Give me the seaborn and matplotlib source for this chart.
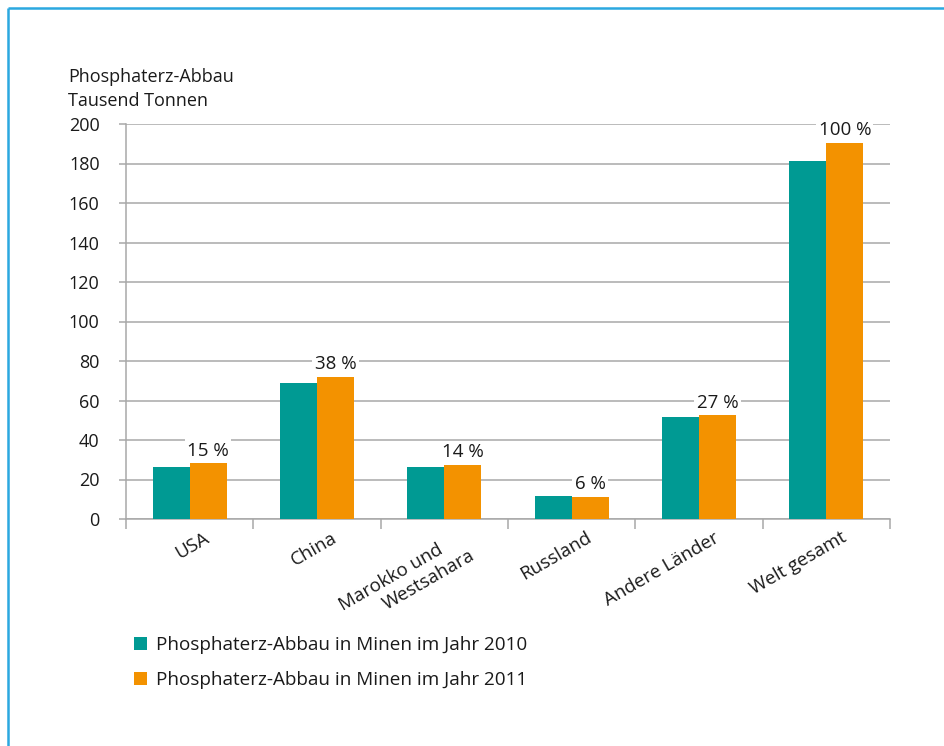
import matplotlib
matplotlib.use("Agg")
import matplotlib.pyplot as plt
import matplotlib.transforms as mtransforms
from matplotlib.lines import Line2D
from matplotlib.patches import Patch
import numpy as np
import pandas as pd
import seaborn as sns

# Phosphate rock mining, thousand tonnes
categories = ["USA", "China", "Marokko und Westsahara", "Russland",
              "Andere Länder", "Welt gesamt"]
tick_labels = ["USA", "China", "Marokko und     \nWestsahara", "Russland",
               "Andere Länder", "Welt gesamt"]
mining_2010 = [26.4, 68.7, 26.4, 11.5, 51.4, 181.5]
mining_2011 = [28.3, 72.0, 27.4, 11.3, 52.6, 190.5]
share_2011 = [15, 38, 14, 6, 27, 100]
series_names = ["Phosphaterz-Abbau in Minen im Jahr 2010",
                "Phosphaterz-Abbau in Minen im Jahr 2011"]
y_ticks = [0, 20, 40, 60, 80, 100, 120, 140, 160, 180, 200]

TEAL = "#009A93"
ORANGE = "#F39200"
GRID = "#A8A8A8"
FRAME = "#2BA8E0"
INK = "#1a1a1a"
FS = 13

sns.set_theme(style="white")
plt.rcParams["font.family"] = ["Open Sans", "DejaVu Sans"]

df = pd.DataFrame({
    "Land": categories * 2,
    "Wert": mining_2010 + mining_2011,
    "Serie": [series_names[0]] * len(categories) + [series_names[1]] * len(categories),
})

W, H = 945, 746
fig = plt.figure(figsize=(W / 100, H / 100), dpi=100)
ax = fig.add_axes([126 / W, 1 - 519 / H, (890 - 126) / W, (519 - 124) / H])

sns.barplot(data=df, x="Land", y="Wert", hue="Serie", order=categories,
            hue_order=series_names, palette=[TEAL, ORANGE], width=0.58,
            saturation=1, linewidth=0, ax=ax, zorder=3)

ax.set_xlim(-0.5, len(categories) - 0.5)
ax.set_ylim(0, 200)
ax.set_yticks(y_ticks)
ax.set_yticklabels([str(v) for v in y_ticks], fontsize=FS, color=INK)
ax.set_xlabel("")
ax.set_ylabel("")

# horizontal gridlines
ax.yaxis.grid(True, color=GRID, linewidth=1.1, zorder=0)
ax.set_axisbelow(True)
for s in ("top", "right"):
    ax.spines[s].set_visible(False)
for s in ("left", "bottom"):
    ax.spines[s].set_color(GRID)
    ax.spines[s].set_linewidth(1.1)
ax.tick_params(axis="y", which="major", left=True, length=5, width=1.1,
               color=GRID, pad=14)

# category separators below the axis, labels at the centers
ax.set_xticks(np.arange(len(categories)))
ax.set_xticklabels(tick_labels)
ax.set_xticks(np.arange(-0.5, len(categories)), minor=True)
ax.tick_params(axis="x", which="major", bottom=False, length=0, pad=7)
ax.tick_params(axis="x", which="minor", bottom=True, length=7, width=1.1,
               color=GRID)
offset = mtransforms.ScaledTranslation(14 / 100, 0, fig.dpi_scale_trans)
for lab in ax.get_xticklabels():
    lab.set_rotation(30)
    lab.set_ha("right")
    lab.set_va("top")
    lab.set_rotation_mode("anchor")
    lab.set_fontsize(13.5)
    lab.set_color(INK)
    lab.set_multialignment("right")
    lab.set_transform(lab.get_transform() + offset)

# share labels above the 2011 bars
x_pos = np.arange(len(categories))
bar_w = 0.58 / 2
for xi, val, share in zip(x_pos, mining_2011, share_2011):
    ax.annotate(f"{share} %", xy=(xi + bar_w / 2, val), xytext=(0, 2.5),
                textcoords="offset points", ha="center", va="bottom",
                fontsize=13.5, color=INK, zorder=5,
                bbox=dict(boxstyle="square,pad=0.12", fc="white", ec="none"))

if ax.get_legend() is not None:
    ax.get_legend().remove()

handles = [Patch(facecolor=TEAL, edgecolor="none"),
           Patch(facecolor=ORANGE, edgecolor="none")]
fig.legend(handles, series_names, loc="upper left",
           bbox_to_anchor=(134 / W, 1 - 636 / H), frameon=False,
           fontsize=13.6, handlelength=0.69, handleheight=0.69,
           handletextpad=0.48, labelspacing=0.92, borderpad=0,
           borderaxespad=0, labelcolor=INK)

# axis title
fig.text(68 / W, 1 - 68 / H, "Phosphaterz-Abbau\nTausend Tonnen",
         ha="left", va="top", fontsize=FS, color=INK, linespacing=1.42)

# frame lines at the top and left edge
fig.add_artist(Line2D([8 / W, 8 / W], [0, 1 - 8 / H], transform=fig.transFigure,
                      color=FRAME, linewidth=1.8, solid_capstyle="butt"))
fig.add_artist(Line2D([8 / W, 1], [1 - 8 / H, 1 - 8 / H], transform=fig.transFigure,
                      color=FRAME, linewidth=1.8, solid_capstyle="butt"))

fig.savefig("out.png", dpi=100, facecolor="white")
